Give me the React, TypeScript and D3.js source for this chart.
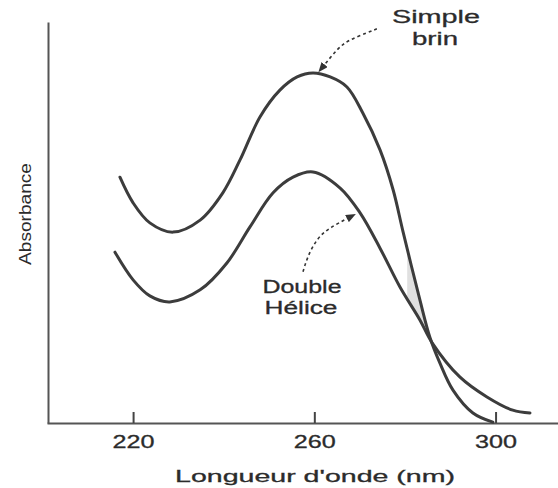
import React, { useEffect, useRef } from "react";
import * as d3 from "d3";

// wavelength (nm) and absorbance (arbitrary units)
const simpleNm = [217.1, 220.0, 223.7, 228.8, 234.8, 239.8, 243.6, 248.0, 252.4, 256.2, 259.7, 263.5, 267.2, 270.7, 274.5, 277.4, 279.6, 283.3, 285.5, 287.7, 290.6, 295.0, 299.4];
const simpleAbs = [0.613, 0.549, 0.499, 0.476, 0.506, 0.574, 0.656, 0.763, 0.83, 0.863, 0.873, 0.863, 0.838, 0.773, 0.681, 0.581, 0.476, 0.307, 0.214, 0.15, 0.082, 0.025, 0.002];

const doubleNm = [216.0, 220.0, 223.7, 228.1, 234.8, 240.7, 245.8, 250.9, 255.3, 259.7, 265.7, 270.1, 274.5, 278.9, 283.3, 286.0, 292.1, 298.1, 303.8, 307.6];
const doubleAbs = [0.426, 0.357, 0.317, 0.302, 0.332, 0.399, 0.489, 0.574, 0.613, 0.626, 0.586, 0.524, 0.436, 0.339, 0.257, 0.2, 0.115, 0.065, 0.032, 0.025];

const tickValues = [220, 260, 300];
const xLabel = "Longueur d'onde (nm)";
const yLabel = "Absorbance";

// annotation arrows, in data coords (start of dashes -> arrow tip)
const simpleArrowNm = [273.8, 271.6, 267.9, 265.0, 262.0];
const simpleArrowAbs = [0.983, 0.973, 0.955, 0.93, 0.89];
const doubleArrowNm = [257.5, 258.6, 260.6, 263.5, 267.6];
const doubleArrowAbs = [0.377, 0.414, 0.456, 0.486, 0.512];

// band where the gap between the two curves is greyed
const shadeBand = [280.5, 285.5];

const W = 558;
const H = 488;
const FONT = "'Liberation Sans', Arial, sans-serif";

const App = () => {
  const svgRef = useRef<SVGSVGElement>(null);

  useEffect(() => {
    const svg = d3.select(svgRef.current);
    svg.selectAll("*").remove();

    const x = d3.scaleLinear().domain([201, 314]).range([47, 559]);
    const y = d3.scaleLinear().domain([0, 1]).range([423, 22]);

    const simple = simpleNm.map((d, i) => [d, simpleAbs[i]] as [number, number]);
    const double = doubleNm.map((d, i) => [d, doubleAbs[i]] as [number, number]);

    const line = d3
      .line<[number, number]>()
      .x((d) => x(d[0]))
      .y((d) => y(d[1]))
      .curve(d3.curveCatmullRom.alpha(0.5));

    const defs = svg.append("defs");
    defs
      .append("clipPath")
      .attr("id", "above-double")
      .append("path")
      .attr(
        "d",
        d3
          .area<[number, number]>()
          .x((d) => x(d[0]))
          .y0(0)
          .y1((d) => y(d[1]))
          .curve(d3.curveCatmullRom.alpha(0.5))(double)
      );
    defs
      .append("clipPath")
      .attr("id", "band")
      .append("rect")
      .attr("x", x(shadeBand[0]))
      .attr("width", x(shadeBand[1]) - x(shadeBand[0]))
      .attr("y", 0)
      .attr("height", H);
    defs
      .append("marker")
      .attr("id", "head")
      .attr("viewBox", "0 0 10 8")
      .attr("refX", 2)
      .attr("refY", 4)
      .attr("markerWidth", 10)
      .attr("markerHeight", 8)
      .attr("markerUnits", "userSpaceOnUse")
      .attr("orient", "auto")
      .append("path")
      .attr("d", "M0,0 L10,4 L0,8 Z")
      .attr("fill", "#333");

    // grey sliver between the curves
    svg
      .append("g")
      .attr("clip-path", "url(#above-double)")
      .append("g")
      .attr("clip-path", "url(#band)")
      .append("path")
      .attr(
        "d",
        d3
          .area<[number, number]>()
          .x((d) => x(d[0]))
          .y0(y(0))
          .y1((d) => y(d[1]))
          .curve(d3.curveCatmullRom.alpha(0.5))(simple)
      )
      .attr("fill", "#e0e0e0");

    // axes
    svg
      .append("g")
      .attr("transform", `translate(0,${y(0)})`)
      .call(
        d3
          .axisBottom(x)
          .tickValues(tickValues)
          .tickFormat(d3.format("d"))
          .tickSizeInner(-11)
          .tickSizeOuter(0)
          .tickPadding(12)
      )
      .call((g) => g.select(".domain").attr("stroke", "#555").attr("stroke-width", 2))
      .call((g) => g.selectAll(".tick line").attr("stroke", "#444").attr("stroke-width", 2))
      .call((g) =>
        g
          .selectAll(".tick text")
          .attr("font-family", FONT)
          .attr("font-size", 18)
          .attr("fill", "#2b2b2b")
          .attr("stroke", "#2b2b2b")
          .attr("stroke-width", 0.3)
          .attr("textLength", 42)
          .attr("lengthAdjust", "spacingAndGlyphs")
      );

    svg
      .append("g")
      .attr("transform", `translate(${x(201) + 1},0)`)
      .call(d3.axisLeft(y).tickValues([]).tickSizeOuter(0))
      .call((g) => g.select(".domain").attr("stroke", "#555").attr("stroke-width", 2));

    // curves
    [simple, double].forEach((data) => {
      svg
        .append("path")
        .attr("d", line(data))
        .attr("fill", "none")
        .attr("stroke", "#3c3c3c")
        .attr("stroke-width", 3)
        .attr("stroke-linecap", "round");
    });

    // annotation arrows
    const arrow = d3
      .line<[number, number]>()
      .x((d) => x(d[0]))
      .y((d) => y(d[1]))
      .curve(d3.curveNatural);
    [
      simpleArrowNm.map((d, i) => [d, simpleArrowAbs[i]] as [number, number]),
      doubleArrowNm.map((d, i) => [d, doubleArrowAbs[i]] as [number, number]),
    ].forEach((pts) => {
      svg
        .append("path")
        .attr("d", arrow(pts))
        .attr("fill", "none")
        .attr("stroke", "#333")
        .attr("stroke-width", 1.6)
        .attr("stroke-dasharray", "3,3")
        .attr("marker-end", "url(#head)");
    });

    // texts
    const label = (txt: string, px: number, py: number, len: number, size = 17) =>
      svg
        .append("text")
        .attr("x", px)
        .attr("y", py)
        .attr("text-anchor", "middle")
        .attr("font-family", FONT)
        .attr("font-size", size)
        .attr("fill", "#2b2b2b")
        .attr("stroke", "#2b2b2b")
        .attr("stroke-width", 0.3)
        .attr("textLength", len)
        .attr("lengthAdjust", "spacingAndGlyphs")
        .text(txt);

    label("Simple", 436, 23, 88, 18);
    label("brin", 435, 45, 46, 18);
    label("Double", 302, 293, 79, 18);
    label("Hélice", 301, 314, 73, 18);
    label(xLabel, 315, 482, 280, 17);

    svg
      .append("text")
      .attr("transform", "translate(31,214) rotate(-90)")
      .attr("text-anchor", "middle")
      .attr("font-family", FONT)
      .attr("font-size", 16)
      .attr("fill", "#2b2b2b")
      .attr("textLength", 102)
      .attr("lengthAdjust", "spacingAndGlyphs")
      .text(yLabel);
  }, []);

  return (
    <svg
      ref={svgRef}
      width={W}
      height={H}
      style={{ position: "absolute", left: 0, top: 0, background: "#fff" }}
    ></svg>
  );
};

export default App;
